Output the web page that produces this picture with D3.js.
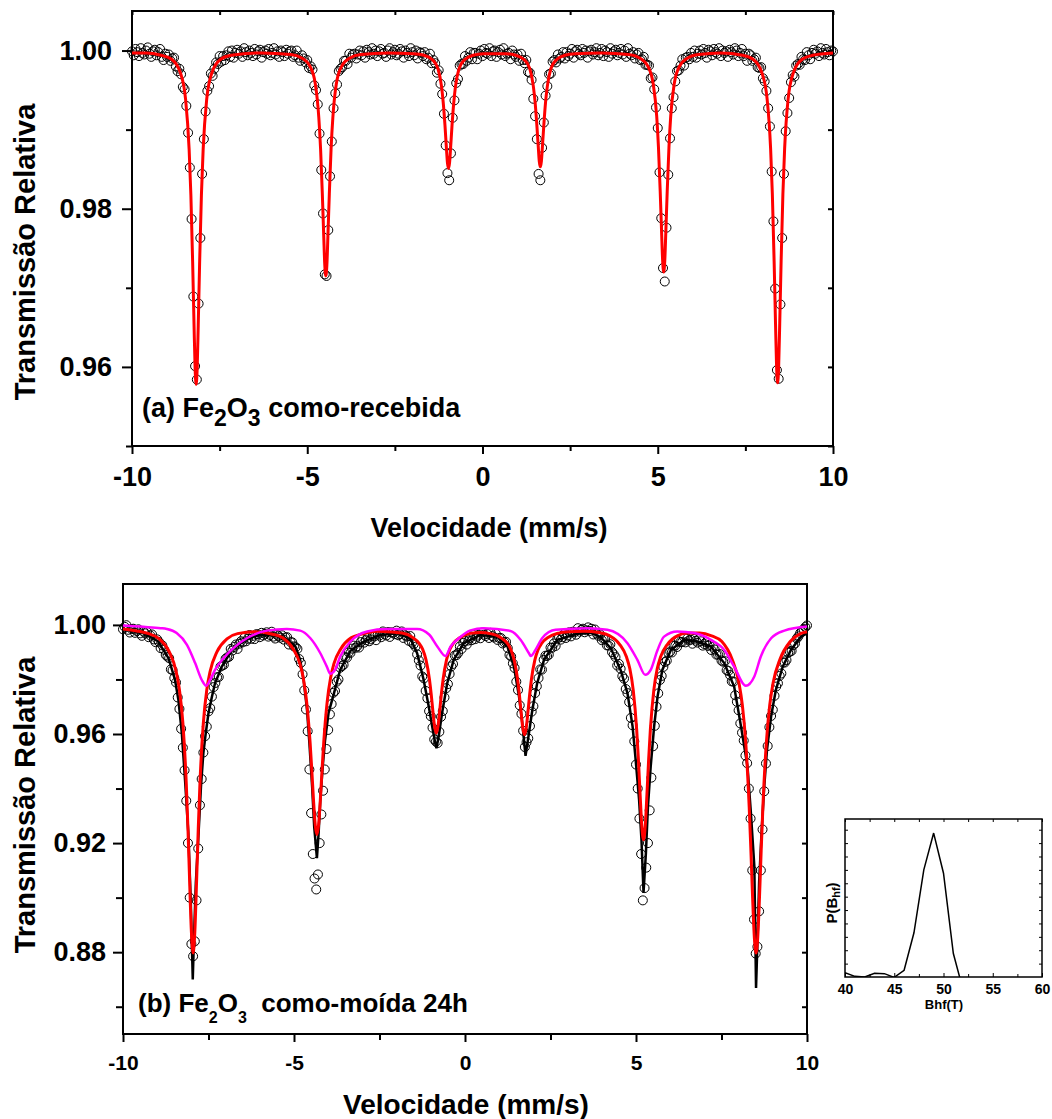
<!DOCTYPE html>
<meta charset="utf-8">
<style>
body { margin: 0; background: #fff; }
svg { display: block; }
svg text { font-family: "Liberation Sans", Arial, sans-serif; font-weight: bold; fill: #000; }
.frame { fill: none; stroke: #000; stroke-width: 2px; }
.frame-inset { fill: none; stroke: #000; stroke-width: 1.5px; }
.dot { fill: none; stroke: #000; stroke-width: 1px; }
.fit-red { fill: none; stroke: #ff0000; stroke-width: 3px; }
.fit-black { fill: none; stroke: #000; stroke-width: 2.5px; }
.fit-magenta { fill: none; stroke: #ff00ff; stroke-width: 2.5px; }
.pbhf { fill: none; stroke: #000; stroke-width: 1.5px; }
.axis path { display: none; }
.axis line { stroke: #000; stroke-width: 2px; }
.axis-inset line { stroke: #000; stroke-width: 1px; }
.axis-inset path { display: none; }
</style>
<body>
<script src="https://d3js.org/d3.v7.min.js"></script>
<script>

// velocity channels (mm/s) shared by both spectra
var velStart = -10, velStep = 0.05;

// (a) Fe2O3 como-recebida : measured relative transmission, one value per channel
var transA = [
  .9999,.9994,1.0002,.9998,.9993,1.0003,.9997,.9995,1.0000,1.0004,.9996,.9992,.9999,1.0001,.9994,.9998,1.0002,
  .9992,.9988,.9996,.9992,.9995,.9987,.9990,.9991,.9980,.9974,.9977,.9970,.9954,.9951,.9930,.9896,.9852,.9787,.9689,.9601,
  .9584,.9680,.9763,.9844,.9888,.9923,.9949,.9955,.9971,.9968,.9977,.9985,.9983,.9993,.9986,.9993,.9988,.9994,.9999,.9992,
  1.0000,.9991,.9997,1.0001,.9996,.9999,.9992,1.0003,.9998,.9994,1.0000,.9997,.9993,1.0002,.9995,.9999,1.0001,
  .9991,.9998,1.0000,.9996,1.0002,.9994,.9997,1.0003,.9995,.9999,.9992,1.0000,.9998,.9993,1.0001,.9996,.9999,
  1.0000,.9992,.9994,1.0000,.9991,.9987,.9994,.9990,.9985,.9988,.9978,.9980,.9976,.9956,.9950,.9932,.9895,.9849,.9794,.9717,
  .9715,.9773,.9841,.9885,.9927,.9946,.9957,.9974,.9977,.9979,.9987,.9987,.9983,.9996,.9991,.9995,.9996,.9990,.9995,1.0000,
  .9994,.9999,.9991,1.0001,.9998,.9995,1.0003,.9996,1.0000,.9993,.9999,1.0002,.9996,.9997,.9992,
  1.0000,1.0003,.9995,.9998,1.0001,.9994,.9996,1.0002,.9999,.9991,1.0000,.9997,.9993,1.0003,.9998,
  .9994,1.0000,.9990,.9998,.9997,.9993,.9998,.9989,.9991,.9996,.9984,.9988,.9984,.9972,.9975,.9958,.9945,.9920,.9880,.9845,
  .9836,.9870,.9915,.9937,.9959,.9964,.9981,.9983,.9983,.9993,.9987,.9991,.9998,.9989,.9997,.9997,.9989,.9996,1.0000,.9993,
  1.0002,.9997,.9996,1.0003,.9993,.9999,1.0000,.9992,.9998,1.0001,.9995,1.0003,
  .9993,.9996,.9997,.9989,1.0000,.9995,.9992,.9995,.9987,.9996,.9988,.9984,.9988,.9973,.9972,.9963,.9939,.9917,.9888,.9844,
  .9836,.9877,.9909,.9943,.9955,.9970,.9971,.9986,.9988,.9985,.9995,.9990,.9992,.9998,.9990,.9998,.9993,.9996,1.0002,.9991,
  .9999,1.0001,.9996,.9994,1.0002,.9997,1.0000,.9991,.9999,1.0001,.9995,.9998,1.0003,.9994,.9997,1.0002,
  .9993,1.0000,.9998,.9992,1.0003,.9996,.9999,1.0001,.9994,.9997,1.0002,.9995,1.0000,.9992,1.0003,
  .9996,.9994,.9998,.9990,.9995,.9997,.9988,.9989,.9992,.9982,.9982,.9981,.9965,.9966,.9951,.9928,.9902,.9846,.9788,.9725,
  .9708,.9776,.9843,.9889,.9927,.9941,.9961,.9974,.9975,.9981,.9989,.9981,.9991,.9992,.9989,.9997,.9992,1.0000,.9991,.9996,
  1.0000,.9995,1.0002,.9997,.9991,1.0001,.9999,.9994,1.0002,.9998,.9996,1.0003,.9993,
  1.0000,.9997,.9999,.9992,1.0001,.9998,.9995,1.0003,1.0000,.9993,.9997,1.0002,
  .9993,.9996,.9987,.9996,.9994,.9987,.9989,.9991,.9979,.9978,.9979,.9965,.9961,.9949,.9927,.9904,.9847,.9784,.9699,.9596,
  .9585,.9679,.9763,.9844,.9898,.9921,.9940,.9960,.9969,.9967,.9981,.9983,.9982,.9992,.9989,.9988,.9998,.9994,.9989,.9997,
  1.0001,.9996,.9999,.9993,1.0003,.9997,.9995,1.0002,.9998,.9994,1.0000,.9999
];

// (a) fitted sextet (red line)
var fitAVel = [
  -10,-9.6,
  -9.17,-8.87,-8.62,-8.47,-8.37,-8.32,-8.27,-8.23,-8.20,-8.17,-8.14,-8.11,-8.07,-8.02,-7.97,-7.87,-7.72,-7.47,-7.17,
  -6.3,
  -5.47,-5.17,-4.92,-4.77,-4.67,-4.62,-4.57,-4.53,-4.50,-4.47,-4.44,-4.41,-4.37,-4.32,-4.27,-4.17,-4.02,-3.77,-3.47,
  -2.7,
  -1.97,-1.67,-1.42,-1.27,-1.17,-1.12,-1.07,-1.03,-1.00,-0.97,-0.94,-0.91,-0.87,-0.82,-0.77,-0.67,-0.52,-0.27,0.03,
  0.34,
  0.65,0.95,1.20,1.35,1.45,1.50,1.55,1.59,1.62,1.65,1.68,1.71,1.75,1.80,1.85,1.95,2.10,2.35,2.65,
  3.4,
  4.17,4.47,4.72,4.87,4.97,5.02,5.07,5.11,5.14,5.17,5.20,5.23,5.27,5.32,5.37,5.47,5.62,5.87,6.17,
  6.8,
  7.42,7.72,7.97,8.12,8.22,8.27,8.32,8.36,8.39,8.42,8.45,8.48,8.52,8.57,8.62,8.72,8.87,9.12,9.42,
  10
];
var fitATrans = [
  .9997,.9997,
  .9994,.9989,.9972,.9938,.9875,.9817,.9733,.9653,.9599,.9578,.9599,.9653,.9733,.9817,.9875,.9938,.9972,.9989,.9994,
  .9997,
  .9995,.9991,.9980,.9958,.9915,.9876,.9819,.9766,.9729,.9715,.9729,.9766,.9819,.9876,.9915,.9958,.9980,.9991,.9995,
  .9997,
  .9996,.9994,.9988,.9977,.9955,.9934,.9905,.9877,.9858,.9851,.9858,.9877,.9905,.9934,.9955,.9977,.9988,.9994,.9996,
  .9996,
  .9996,.9994,.9988,.9977,.9955,.9935,.9906,.9879,.9860,.9853,.9860,.9879,.9906,.9935,.9955,.9977,.9988,.9994,.9996,
  .9997,
  .9995,.9991,.9980,.9958,.9917,.9878,.9822,.9770,.9734,.9720,.9734,.9770,.9822,.9878,.9917,.9958,.9980,.9991,.9995,
  .9997,
  .9994,.9989,.9972,.9939,.9876,.9818,.9734,.9655,.9601,.9580,.9601,.9655,.9734,.9818,.9876,.9939,.9972,.9989,.9994,
  .9997
];

// (b) Fe2O3 como-moida 24h : measured relative transmission, one value per channel
var transB = [
  .9984,.9993,.9999,.9982,.9972,.9985,.9986,.9971,.9978,.9984,.9969,.9960,.9976,
  .9969,.9974,.9955,.9961,.9965,.9947,.9937,.9947,
  .9938,.9915,.9925,.9909,.9890,.9884,
  .9878,.9837,.9834,.9805,
  .9789,.9734,.9692,.9619,.9550,.9467,.9355,
  .9200,.9000,.8830,.8785,.8840,.8990,.9180,
  .9339,.9435,.9532,.9592,.9627,.9683,.9695,.9737,.9772,
  .9787,.9808,.9809,.9847,.9851,.9854,.9876,.9881,.9883,.9912,
  .9906,.9919,.9928,.9912,.9931,.9940,.9936,.9953,.9940,.9949,.9963,.9949,.9960,.9948,.9966,.9965,
  .9955,.9971,.9961,.9967,.9973,.9957,.9963,.9975,.9957,.9950,.9964,.9959,.9953,.9962,.9946,
  .9954,.9955,.9928,.9937,.9936,.9921,.9918,.9912,.9875,.9861,.9819,
  .9760,.9690,.9610,.9470,.9310,.9160,.9070,.9030,.9085,.9200,.9305,.9392,.9470,.9545,.9615,.9672,.9710,.9751,
  .9758,.9792,.9800,.9843,.9849,.9854,.9882,.9880,.9899,.9897,
  .9913,.9924,.9916,.9922,.9917,.9937,.9948,.9935,.9944,.9952,.9940,.9947,.9961,.9958,.9944,.9965,.9961,
  .9955,.9976,.9966,.9961,.9974,.9956,.9973,.9971,.9966,.9979,.9962,.9966,.9976,.9952,.9962,.9958,.9942,.9959,
  .9935,.9929,.9920,.9892,.9870,.9851,.9811,.9804,.9758,.9731,.9684,.9665,
  .9623,.9580,.9572,.9567,.9608,.9663,.9684,.9734,.9768,
  .9783,.9820,.9848,.9857,.9888,.9889,.9897,.9921,.9912,.9934,
  .9941,.9928,.9943,.9952,.9944,.9963,.9948,.9957,.9964,.9951,.9972,.9964,.9959,.9967,.9952,.9971,.9959,.9954,.9968,
  .9945,.9952,.9952,.9932,.9936,.9938,.9915,.9890,.9884,.9859,
  .9842,.9792,.9761,.9705,.9674,.9612,.9552,.9570,.9584,.9629,
  .9682,.9702,.9750,.9775,.9805,.9837,.9836,.9872,.9887,.9886,.9891,.9917,.9916,.9932,.9923,.9949,
  .9956,.9946,.9955,.9967,.9952,.9961,.9973,.9958,.9975,.9973,.9964,.9988,.9975,.9982,.9986,.9973,.9980,.9991,.9978,
  .9986,.9965,.9983,.9968,.9960,.9965,.9944,.9949,.9948,.9925,.9924,.9929,.9900,.9892,.9882,.9851,.9857,
  .9839,.9812,.9803,.9765,.9750,.9717,.9659,.9632,
  .9573,.9488,.9400,.9290,.9160,.8990,.9035,.9110,.9200,.9320,.9440,.9555,.9630,.9700,
  .9749,.9798,.9813,.9846,.9864,.9869,.9897,.9902,
  .9899,.9924,.9924,.9919,.9940,.9937,.9937,.9956,.9936,.9950,.9943,.9946,.9931,.9949,.9942,.9935,
  .9949,.9940,.9924,.9930,.9937,.9923,.9927,.9908,.9920,.9910,.9891,.9891,.9893,.9869,.9865,
  .9867,.9834,.9831,.9816,.9793,.9792,.9742,.9718,.9687,.9639,.9605,.9576,.9521,.9493,
  .9400,.9290,.9100,.8920,.8795,.8820,.8950,.9100,.9250,.9390,.9492,
  .9556,.9625,.9666,.9689,.9740,.9774,.9786,.9813,.9822,.9862,.9862,.9871,.9898,.9902,.9905,.9926,.9932,
  .9950,.9958,.9970,.9975,.9984,.9992,.9998
];

// (b) sextet 1 (red line)
var redBVel = [
  -10,-9.6,-9.25,-8.95,-8.65,-8.45,-8.35,-8.25,-8.15,-8.10,-8.05,-8.00,-7.95,-7.90,-7.85,-7.80,-7.75,-7.65,-7.55,-7.45,-7.25,-6.95,-6.65,-6.14,
  -5.63,-5.33,-5.03,-4.83,-4.73,-4.63,-4.53,-4.48,-4.43,-4.38,-4.33,-4.28,-4.23,-4.18,-4.13,-4.03,-3.93,-3.83,-3.63,-3.33,-3.03,-2.58,
  -2.14,-1.84,-1.54,-1.34,-1.24,-1.14,-1.04,-0.99,-0.94,-0.89,-0.84,-0.79,-0.74,-0.69,-0.64,-0.54,-0.44,-0.34,-0.14,0.16,0.45,
  0.74,1.04,1.24,1.34,1.44,1.54,1.59,1.64,1.69,1.74,1.79,1.84,1.89,1.94,2.04,2.14,2.24,2.44,2.74,3.04,3.48,
  3.92,4.22,4.52,4.72,4.82,4.92,5.02,5.07,5.12,5.17,5.22,5.27,5.32,5.37,5.42,5.52,5.62,5.72,5.92,6.22,6.52,6.86,
  7.21,7.51,7.81,8.01,8.11,8.21,8.31,8.36,8.41,8.46,8.51,8.56,8.61,8.66,8.71,8.81,8.91,9.01,9.21,9.51,9.81,10
];
var redBTrans = [
  .9985,.9978,.9968,.9950,.9902,.9831,.9762,.9642,.9419,.9251,.9054,.8874,.8797,.8874,.9054,.9251,.9419,.9642,.9762,.9831,.9902,.9950,.9968,.9975,
  .9966,.9953,.9913,.9859,.9806,.9718,.9570,.9468,.9359,.9268,.9231,.9268,.9359,.9468,.9570,.9718,.9806,.9859,.9913,.9953,.9966,.9977,
  .9974,.9970,.9955,.9932,.9911,.9872,.9801,.9748,.9685,.9628,.9603,.9628,.9685,.9748,.9801,.9872,.9911,.9932,.9954,.9969,.9972,
  .9968,.9954,.9932,.9910,.9870,.9798,.9744,.9680,.9622,.9597,.9622,.9680,.9744,.9798,.9870,.9910,.9932,.9955,.9970,.9975,.9977,
  .9972,.9961,.9929,.9883,.9839,.9760,.9616,.9507,.9379,.9262,.9212,.9262,.9379,.9507,.9616,.9760,.9839,.9883,.9929,.9961,.9970,.9970,
  .9960,.9939,.9874,.9788,.9706,.9566,.9332,.9172,.8999,.8855,.8797,.8855,.8999,.9172,.9332,.9566,.9706,.9788,.9874,.9939,.9968,.9975
];

// (b) total fit (black line)
var blackBVel = [
  -10,-9.36,-8.97,-8.67,-8.48,-8.38,-8.28,-8.18,-8.09,-8.02,-7.96,-7.92,-7.87,-7.79,-7.72,-7.65,-7.58,-7.50,-7.40,-7.31,
  -7.11,-6.82,-6.43,-6.04,-5.65,-5.26,-4.96,-4.82,-4.72,-4.62,-4.55,-4.47,-4.41,-4.33,-4.28,-4.23,-4.16,-4.09,-3.99,-3.84,
  -3.65,-3.35,-2.96,-2.47,-1.99,-1.60,-1.40,-1.21,-1.06,-0.96,-0.89,-0.835,-0.77,-0.67,-0.52,-0.33,-0.035,0.45,0.94,1.24,
  1.43,1.58,1.675,1.77,1.87,1.97,2.11,2.31,2.70,3.29,3.68,3.97,4.26,4.55,4.75,4.90,4.99,5.09,5.16,5.22,
  5.29,5.35,5.43,5.53,5.63,5.77,6.02,6.41,6.80,7.19,7.58,7.87,8.07,8.26,8.36,8.46,8.51,8.56,8.60,8.67,
  8.75,8.83,8.95,9.09,9.29,9.53,9.82,10
];
var blackBTrans = [
  .9984,.9969,.9939,.9878,.9799,.9725,.9603,.9420,.9237,.8993,.8700,.8871,.9054,.9237,.9408,.9530,.9603,.9677,.9737,.9786,
  .9847,.9908,.9945,.9963,.9963,.9951,.9921,.9872,.9799,.9689,.9567,.9408,.9261,.9145,.9237,.9359,.9481,.9579,.9677,.9745,
  .9835,.9905,.9939,.9963,.9969,.9951,.9896,.9799,.9701,.9628,.9579,.9548,.9591,.9677,.9786,.9872,.9933,.9963,.9957,.9921,
  .9847,.9737,.9640,.9520,.9603,.9689,.9786,.9872,.9945,.9968,.9972,.9955,.9915,.9835,.9750,.9628,.9505,.9359,.9212,.9017,
  .9164,.9335,.9481,.9628,.9737,.9835,.9908,.9945,.9939,.9921,.9860,.9774,.9628,.9481,.9310,.9115,.8669,.8871,.9054,.9237,
  .9408,.9542,.9664,.9762,.9847,.9908,.9957,.9969
];

// (b) field-distribution component (magenta line)
var magBVel = [
  -10,-9.4,-8.9,-8.72,-8.43,-8.13,-7.89,-7.70,-7.57,-7.45,-7.31,-7.06,-6.77,-6.38,-5.79,-5.21,-4.82,-4.52,-4.23,-4.04,
  -3.94,-3.80,-3.65,-3.35,-2.86,-2.28,-1.40,-1.05,-0.81,-0.57,-0.42,-0.18,0.16,0.55,1.33,1.63,1.87,1.92,2.06,2.26,
  2.65,3.58,4.16,4.75,5.04,5.27,5.43,5.63,5.82,6.21,6.70,7.19,7.58,7.87,8.21,8.46,8.65,8.95,9.34,10
];
var magBTrans = [
  .9998,.9993,.9988,.9985,.9970,.9927,.9860,.9799,.9777,.9799,.9835,.9878,.9915,.9951,.9979,.9985,.9979,.9951,.9896,.9847,
  .9821,.9835,.9884,.9939,.9976,.9985,.9985,.9965,.9921,.9886,.9921,.9951,.9980,.9988,.9978,.9945,.9896,.9886,.9908,.9952,
  .9982,.9988,.9982,.9933,.9872,.9817,.9835,.9908,.9957,.9976,.9970,.9945,.9908,.9847,.9777,.9811,.9884,.9951,.9979,.9994
];

// inset: hyperfine field distribution P(Bhf)
var bhf  = [40, 41, 42, 43, 44, 45, 46, 47, 48, 49, 50, 51, 52];
var pBhf = [0.013, 0.002, 0.000, 0.011, 0.010, -0.001, 0.020, 0.132, 0.320, 0.430, 0.310, 0.070, -0.040];

// ticks
var velTicks = [-10, -5, 0, 5, 10];
var velMinor = [-7.5, -2.5, 2.5, 7.5];
var transTicksA = [0.96, 0.98, 1.00];
var transMinorA = [0.95, 0.97, 0.99];
var transTicksB = [0.88, 0.92, 0.96, 1.00];
var transMinorB = [0.86, 0.90, 0.94, 0.98];
var bhfTicks = [40, 45, 50, 55, 60];
var bhfMinor = [42.5, 47.5, 52.5, 57.5];
var pTicks = [0.04, 0.08, 0.12, 0.16, 0.20, 0.24, 0.28, 0.32, 0.36, 0.40, 0.44];

function zip(xs, ys) {
  if (xs.length !== ys.length) throw new Error("length mismatch " + xs.length + " / " + ys.length);
  return xs.map(function(x, i) { return [x, ys[i]]; });
}
function channels(values) {
  return values.map(function(v, i) { return [velStart + i * velStep, v]; });
}
var fmt2 = d3.format(".2f");

var svg = d3.select("body").append("svg")
    .attr("width", 1052)
    .attr("height", 1119);

svg.append("defs").append("clipPath")
    .attr("id", "clip-inset")
  .append("rect")
    .attr("x", 845).attr("y", 819)
    .attr("width", 197).attr("height", 158);

// ---------------- panel (a) ----------------
var xA = d3.scaleLinear().domain([-10, 10]).range([132, 833]);
var yA = d3.scaleLinear().domain([0.95, 1.005]).range([446, 11]);

svg.append("g").attr("class", "axis")
    .attr("transform", "translate(0,446)")
    .call(d3.axisBottom(xA).tickValues(velTicks).tickSize(8).tickPadding(13).tickFormat(String))
    .attr("font-size", 27);
svg.append("g").attr("class", "axis")
    .attr("transform", "translate(0,446)")
    .call(d3.axisBottom(xA).tickValues(velMinor).tickSize(5).tickFormat(""));
svg.append("g").attr("class", "axis")
    .attr("transform", "translate(0,11)")
    .call(d3.axisTop(xA).tickValues(velTicks.concat(velMinor)).tickSize(-4).tickFormat(""));
svg.append("g").attr("class", "axis")
    .attr("transform", "translate(132,0)")
    .call(d3.axisLeft(yA).tickValues(transTicksA).tickSize(10).tickPadding(10).tickFormat(fmt2))
    .attr("font-size", 27);
svg.append("g").attr("class", "axis")
    .attr("transform", "translate(132,0)")
    .call(d3.axisLeft(yA).tickValues(transMinorA).tickSize(6).tickFormat(""));
svg.append("g").attr("class", "axis")
    .attr("transform", "translate(833,0)")
    .call(d3.axisRight(yA).tickValues(transTicksA.concat(transMinorA)).tickSize(-5).tickFormat(""));

svg.append("rect").attr("class", "frame")
    .attr("x", 132).attr("y", 11).attr("width", 701).attr("height", 435);

svg.append("g").selectAll("circle")
    .data(channels(transA))
  .enter().append("circle")
    .attr("class", "dot")
    .attr("cx", function(d) { return xA(d[0]); })
    .attr("cy", function(d) { return yA(d[1]); })
    .attr("r", 4.5);

var lineA = d3.line()
    .x(function(d) { return xA(d[0]); })
    .y(function(d) { return yA(d[1]); })
    .curve(d3.curveMonotoneX);

svg.append("path")
    .datum(zip(fitAVel, fitATrans))
    .attr("class", "fit-red")
    .attr("d", lineA);

var labA = svg.append("text").attr("x", 142).attr("y", 417).attr("font-size", 27);
labA.append("tspan").text("(a) Fe");
labA.append("tspan").attr("dy", 9).attr("font-size", 23).text("2");
labA.append("tspan").attr("dy", -9).text("O");
labA.append("tspan").attr("dy", 9).attr("font-size", 23).text("3");
labA.append("tspan").attr("dy", -9).text(" como-recebida");

svg.append("text")
    .attr("x", 489).attr("y", 537)
    .attr("text-anchor", "middle")
    .attr("font-size", 27)
    .text("Velocidade (mm/s)");

svg.append("text")
    .attr("transform", "translate(35,252) rotate(-90)")
    .attr("text-anchor", "middle")
    .attr("font-size", 29)
    .text("Transmissão Relativa");

// ---------------- panel (b) ----------------
var xB = d3.scaleLinear().domain([-10, 10]).range([123, 807]);
var yB = d3.scaleLinear().domain([0.85, 1.015]).range([1034, 584]);

svg.append("g").attr("class", "axis")
    .attr("transform", "translate(0,1034)")
    .call(d3.axisBottom(xB).tickValues(velTicks).tickSize(8).tickPadding(13).tickFormat(String))
    .attr("font-size", 21);
svg.append("g").attr("class", "axis")
    .attr("transform", "translate(0,1034)")
    .call(d3.axisBottom(xB).tickValues(velMinor).tickSize(6).tickFormat(""));
svg.append("g").attr("class", "axis")
    .attr("transform", "translate(123,0)")
    .call(d3.axisLeft(yB).tickValues(transTicksB).tickSize(10).tickPadding(7).tickFormat(fmt2))
    .attr("font-size", 27);
svg.append("g").attr("class", "axis")
    .attr("transform", "translate(123,0)")
    .call(d3.axisLeft(yB).tickValues(transMinorB).tickSize(7).tickFormat(""));
svg.append("g").attr("class", "axis")
    .attr("transform", "translate(807,0)")
    .call(d3.axisRight(yB).tickValues(transTicksB.concat(transMinorB)).tickSize(-5).tickFormat(""));

svg.append("rect").attr("class", "frame")
    .attr("x", 123).attr("y", 584).attr("width", 684).attr("height", 450);

svg.append("g").selectAll("circle")
    .data(channels(transB))
  .enter().append("circle")
    .attr("class", "dot")
    .attr("cx", function(d) { return xB(d[0]); })
    .attr("cy", function(d) { return yB(d[1]); })
    .attr("r", 4.5);

var lineBLinear = d3.line()
    .x(function(d) { return xB(d[0]); })
    .y(function(d) { return yB(d[1]); });
var lineBSmooth = d3.line()
    .x(function(d) { return xB(d[0]); })
    .y(function(d) { return yB(d[1]); })
    .curve(d3.curveMonotoneX);

svg.append("path")
    .datum(zip(blackBVel, blackBTrans))
    .attr("class", "fit-black")
    .attr("d", lineBLinear);
svg.append("path")
    .datum(zip(redBVel, redBTrans))
    .attr("class", "fit-red")
    .attr("d", lineBSmooth);
svg.append("path")
    .datum(zip(magBVel, magBTrans))
    .attr("class", "fit-magenta")
    .attr("d", lineBSmooth);

var labB = svg.append("text").attr("x", 138).attr("y", 1012).attr("font-size", 26).style("white-space", "pre");
labB.append("tspan").text("(b) Fe");
labB.append("tspan").attr("dy", 11).attr("font-size", 16).text("2");
labB.append("tspan").attr("dy", -11).text("O");
labB.append("tspan").attr("dy", 11).attr("font-size", 16).text("3");
labB.append("tspan").attr("dy", -11).text("  como-moída 24h");

svg.append("text")
    .attr("x", 466).attr("y", 1114)
    .attr("text-anchor", "middle")
    .attr("font-size", 28)
    .text("Velocidade (mm/s)");

svg.append("text")
    .attr("transform", "translate(35,805) rotate(-90)")
    .attr("text-anchor", "middle")
    .attr("font-size", 29)
    .text("Transmissão Relativa");

// ---------------- inset P(Bhf) ----------------
var xI = d3.scaleLinear().domain([40, 60]).range([845, 1042]);
var yI = d3.scaleLinear().domain([0, 0.472]).range([977, 819]);

svg.append("g").attr("class", "axis-inset")
    .attr("transform", "translate(0,977)")
    .call(d3.axisBottom(xI).tickValues(bhfTicks).tickSize(-4).tickPadding(7).tickFormat(String))
    .attr("font-size", 14);
svg.append("g").attr("class", "axis-inset")
    .attr("transform", "translate(0,977)")
    .call(d3.axisBottom(xI).tickValues(bhfMinor).tickSize(-3).tickFormat(""));
svg.append("g").attr("class", "axis-inset")
    .attr("transform", "translate(0,819)")
    .call(d3.axisTop(xI).tickValues(bhfTicks.concat(bhfMinor)).tickSize(-3).tickFormat(""));
svg.append("g").attr("class", "axis-inset")
    .attr("transform", "translate(845,0)")
    .call(d3.axisLeft(yI).tickValues(pTicks).tickSize(-3).tickFormat(""));
svg.append("g").attr("class", "axis-inset")
    .attr("transform", "translate(1042,0)")
    .call(d3.axisRight(yI).tickValues(pTicks).tickSize(-3).tickFormat(""));

svg.append("rect").attr("class", "frame-inset")
    .attr("x", 845).attr("y", 819).attr("width", 197).attr("height", 158);

svg.append("path")
    .datum(zip(bhf, pBhf))
    .attr("class", "pbhf")
    .attr("clip-path", "url(#clip-inset)")
    .attr("d", d3.line()
        .x(function(d) { return xI(d[0]); })
        .y(function(d) { return yI(d[1]); }));

var labP = svg.append("text")
    .attr("transform", "translate(837,903) rotate(-90)")
    .attr("text-anchor", "middle")
    .attr("font-size", 15);
labP.append("tspan").text("P(B");
labP.append("tspan").attr("dy", 3).attr("font-size", 11).text("hf");
labP.append("tspan").attr("dy", -3).text(")");

svg.append("text")
    .attr("x", 944).attr("y", 1009)
    .attr("text-anchor", "middle")
    .attr("font-size", 13)
    .text("Bhf(T)");

</script>
</body>
